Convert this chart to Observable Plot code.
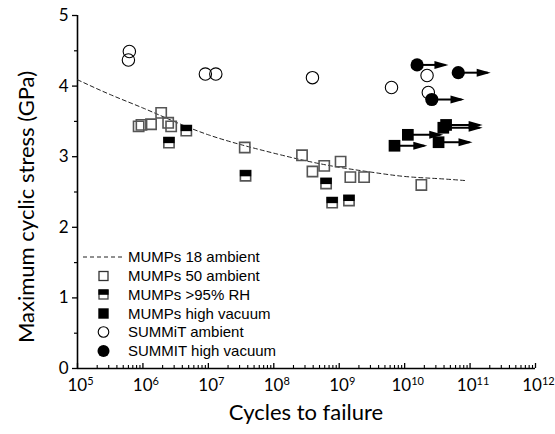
<!DOCTYPE html>
<html><head><meta charset="utf-8">
<script src="https://cdn.jsdelivr.net/npm/d3@7"></script>
<script src="https://cdn.jsdelivr.net/npm/@observablehq/plot@0.6"></script>
<style>body{margin:0;background:#fff}</style>
</head><body><div id="chart"></div>
<script>
// ---- data ----
const mumps18X = [1e5, 3.16e5, 1e6, 3.16e6, 1e7, 3.16e7, 1e8, 3.16e8, 1e9, 3.16e9, 1e10, 3.16e10, 9e10];
const mumps18Y = [4.09, 3.88, 3.69, 3.49, 3.31, 3.17, 3.05, 2.94, 2.85, 2.78, 2.72, 2.69, 2.66];

const mumps50X = [8.6e5, 9.5e5, 1.33e6, 1.9e6, 2.43e6, 2.7e6, 3.6e7, 2.7e8, 3.9e8, 5.9e8, 1.05e9, 1.48e9, 2.4e9, 1.8e10];
const mumps50Y = [3.43, 3.45, 3.46, 3.62, 3.48, 3.43, 3.13, 3.02, 2.79, 2.87, 2.93, 2.71, 2.71, 2.60];

const mumpsRHX = [2.5e6, 4.6e6, 3.7e7, 6.3e8, 7.8e8, 1.41e9];
const mumpsRHY = [3.20, 3.37, 2.73, 2.62, 2.35, 2.38];

const mumpsVacX = [7.0e9, 1.12e10, 3.3e10, 3.9e10, 4.3e10];
const mumpsVacY = [3.155, 3.31, 3.205, 3.41, 3.45];
const mumpsVacRunout = [2.0e10, 3.5e10, 9.8e10, 1.4e11, 1.4e11];

const summitX = [6.0e5, 6.2e5, 9.0e6, 1.3e7, 3.9e8, 6.3e9, 2.2e10, 2.3e10];
const summitY = [4.37, 4.49, 4.17, 4.17, 4.12, 3.98, 4.15, 3.91];

const summitVacX = [1.55e10, 6.6e10, 2.6e10];
const summitVacY = [4.30, 4.19, 3.81];
const summitVacRunout = [4.2e10, 1.86e11, 7.4e10];

const xMajor = [1e5, 1e6, 1e7, 1e8, 1e9, 1e10, 1e11, 1e12];
const xMinor = d3.range(5, 12).flatMap(e => d3.range(2, 10).map(m => m * Math.pow(10, e)));
const yMajor = [0, 1, 2, 3, 4, 5];
const yMinor = [0.5, 1.5, 2.5, 3.5, 4.5];
const xDomain = [1e5, 1e12];
const yDomain = [0, 5];

const legendLabels = ["MUMPs 18 ambient", "MUMPs 50 ambient", "MUMPs >95% RH", "MUMPs high vacuum", "SUMMiT ambient", "SUMMIT high vacuum"];
const xTitle = "Cycles to failure";
const yTitle = "Maximum cyclic stress (GPa)";

// ---- tables ----
const toRows = (xs, ys, ends) => xs.map((x, i) => ({x, y: ys[i], x2: ends ? ends[i] : undefined}));
const mumps18 = toRows(mumps18X, mumps18Y);
const mumps50 = toRows(mumps50X, mumps50Y);
const mumpsRH = toRows(mumpsRHX, mumpsRHY);
const mumpsVac = toRows(mumpsVacX, mumpsVacY, mumpsVacRunout);
const summit = toRows(summitX, summitY);
const summitVac = toRows(summitVacX, summitVacY, summitVacRunout);

// custom symbols
const topHalf = {draw(ctx, size) { const w = Math.sqrt(size), s = w / 2; ctx.rect(-s, -s, w, w * 0.55); }};
const arrowHead = {draw(ctx) { ctx.moveTo(3, 0); ctx.lineTo(-11, -4); ctx.lineTo(-11, 4); ctx.closePath(); }};

const W = 555, H = 434, mL = 77, mR = 20, mT = 15, mB = 66;
const innerH = H - mT - mB;

const chart = Plot.plot({
  width: W, height: H,
  marginLeft: mL, marginRight: mR, marginTop: mT, marginBottom: mB,
  style: {fontFamily: "Lato, 'DejaVu Sans', sans-serif", background: "white", color: "black", overflow: "visible"},
  x: {type: "log", domain: xDomain},
  y: {domain: yDomain},
  marks: [
    Plot.axisY({ticks: yMajor, tickSize: 5, tickPadding: 4, fontSize: 17, label: null, tickFormat: d => String(d), strokeWidth: 1.3}),
    Plot.axisY({ticks: yMinor, tickSize: 3, text: null, label: null, strokeWidth: 1.2}),
    Plot.axisX({ticks: xMajor, tickSize: 0, tickPadding: 10, fontSize: 17, label: null, tickFormat: d => "10^" + Math.round(Math.log10(d))}),
    Plot.ruleX(xMajor, {x: d => d, insetTop: innerH - 5, stroke: "black", strokeWidth: 1.3}),
    Plot.ruleX(xMinor, {x: d => d, insetTop: innerH - 3, stroke: "black", strokeWidth: 1.1}),
    Plot.ruleY([yDomain[0]], {stroke: "black", strokeWidth: 1.6}),
    Plot.ruleX([xDomain[0]], {y1: yDomain[0], y2: yDomain[1], stroke: "black", strokeWidth: 1.6}),
    // MUMPs 18 fit
    Plot.line(mumps18, {x: "x", y: "y", curve: "natural", stroke: "#222", strokeWidth: 1, strokeDasharray: "4,3"}),
    // MUMPs 50 ambient
    Plot.dot(mumps50, {x: "x", y: "y", symbol: "square", r: 5.8, stroke: "#555", strokeWidth: 1.6, fill: "none"}),
    // MUMPs RH
    Plot.dot(mumpsRH, {x: "x", y: "y", symbol: "square", r: 5.8, stroke: "#555", strokeWidth: 1.6, fill: "white"}),
    Plot.dot(mumpsRH, {x: "x", y: "y", symbol: topHalf, r: 6.4, fill: "black", stroke: "none"}),
    // MUMPs high vacuum runouts
    Plot.link(mumpsVac, {x1: "x", x2: "x2", y1: "y", y2: "y", stroke: "black", strokeWidth: 2}),
    Plot.dot(mumpsVac, {x: "x2", y: "y", symbol: arrowHead, r: 1, fill: "black", stroke: "none"}),
    Plot.dot(mumpsVac, {x: "x", y: "y", symbol: "square", r: 6.6, fill: "black", stroke: "none"}),
    // SUMMiT ambient
    Plot.dot(summit, {x: "x", y: "y", r: 6.2, stroke: "black", strokeWidth: 1.1, fill: "none"}),
    // SUMMiT high vacuum runouts
    Plot.link(summitVac, {x1: "x", x2: "x2", y1: "y", y2: "y", stroke: "black", strokeWidth: 2}),
    Plot.dot(summitVac, {x: "x2", y: "y", symbol: arrowHead, r: 1, fill: "black", stroke: "none"}),
    Plot.dot(summitVac, {x: "x", y: "y", r: 6.6, fill: "black", stroke: "none"})
  ]
});
document.getElementById("chart").appendChild(chart);

const svg = d3.select(chart);
// superscript exponents on x tick labels
svg.selectAll('[aria-label="x-axis tick label"] text').each(function() {
  const t = d3.select(this);
  const s = t.text();
  const [base, exp] = s.split("^");
  t.text("").attr("dx", 3);
  t.append("tspan").text(base);
  t.append("tspan").attr("font-size", 11).attr("dy", "-0.55em").text(exp);
});

// titles
svg.append("text").attr("x", 306).attr("y", 420).attr("text-anchor", "middle")
  .attr("font-family", "Lato, sans-serif").attr("font-size", 22).attr("fill", "black").text(xTitle);
svg.append("text").attr("transform", "translate(34,207) rotate(-90)").attr("text-anchor", "middle")
  .attr("font-family", "Lato, sans-serif").attr("font-size", 22).attr("fill", "black").text(yTitle);

// legend
const lg = svg.append("g").attr("font-family", "'Liberation Sans', Arial, sans-serif").attr("font-size", 15).attr("text-anchor", "start");
const rows = [257, 276, 294.5, 313.5, 332, 351];
const sx = 103.5;
lg.append("line").attr("x1", 83).attr("x2", 125).attr("y1", rows[0]).attr("y2", rows[0])
  .attr("stroke", "#222").attr("stroke-width", 1).attr("stroke-dasharray", "4,3");
lg.append("rect").attr("x", sx - 4.5).attr("y", rows[1] - 4.5).attr("width", 9).attr("height", 9)
  .attr("fill", "none").attr("stroke", "#333").attr("stroke-width", 1.3);
lg.append("rect").attr("x", sx - 4.5).attr("y", rows[2] - 4.5).attr("width", 9).attr("height", 9)
  .attr("fill", "white").attr("stroke", "#444").attr("stroke-width", 1.3);
lg.append("rect").attr("x", sx - 5.1).attr("y", rows[2] - 5.1).attr("width", 10.2).attr("height", 5.4).attr("fill", "black");
lg.append("rect").attr("x", sx - 5.2).attr("y", rows[3] - 5.2).attr("width", 10.4).attr("height", 10.4).attr("fill", "black");
lg.append("circle").attr("cx", sx).attr("cy", rows[4]).attr("r", 5.3).attr("fill", "none").attr("stroke", "black").attr("stroke-width", 1.1);
lg.append("circle").attr("cx", sx).attr("cy", rows[5]).attr("r", 6).attr("fill", "black");
legendLabels.forEach((s, i) => {
  lg.append("text").attr("x", 128).attr("y", rows[i]).attr("dy", "0.36em").attr("text-anchor", "start").attr("fill", "black").text(s);
});
</script>
</body></html>
